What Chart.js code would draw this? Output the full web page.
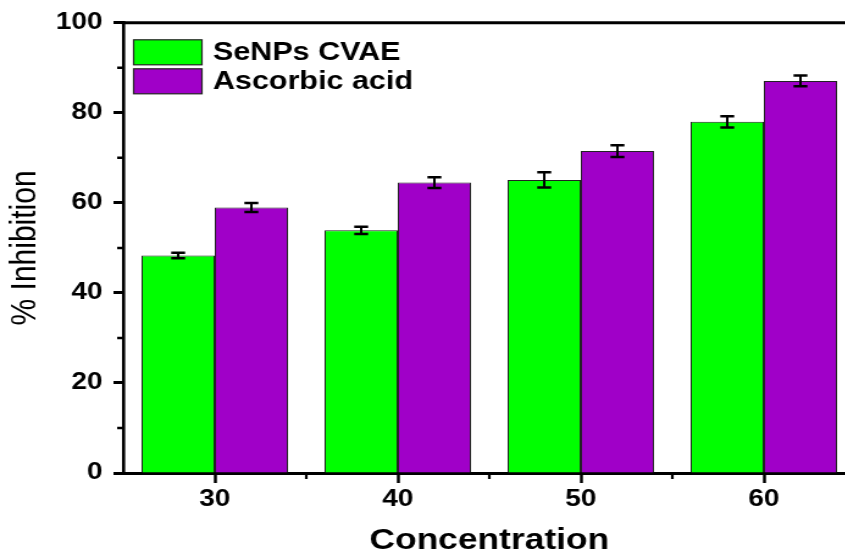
<!DOCTYPE html>
<html>
<head>
<meta charset="utf-8">
<script src="https://cdn.jsdelivr.net/npm/chart.js@4"></script>
<style>
  html, body { margin: 0; padding: 0; overflow: hidden; background: #fff; }
</style>
</head>
<body>
<!-- the original figure is stretched sideways; the inline size keeps that look -->
<canvas id="chart" width="713" height="553" style="display:block;width:870px;height:553px"></canvas>
<script>
// data
const concentrations = ['30', '40', '50', '60'];
const senpsValues = [48.3, 53.9, 65.1, 78.0];
const senpsErrors = [0.6, 0.8, 1.7, 1.25];
const ascorbicValues = [59.0, 64.5, 71.5, 87.1];
const ascorbicErrors = [1.0, 1.2, 1.3, 1.2];
const yTicks = [0, 20, 40, 60, 80, 100];

const FONT = 'Arial, "Liberation Sans", sans-serif';

// error bars, drawn through the scales
const errorBars = {
    id: 'errorBars',
    afterDatasetsDraw(chart) {
        const ctx = chart.ctx;
        const y = chart.scales.y;
        ctx.save();
        ctx.strokeStyle = '#000';
        chart.data.datasets.forEach((ds, i) => {
            const meta = chart.getDatasetMeta(i);
            meta.data.forEach((bar, j) => {
                const v = ds.data[j], e = ds.errors[j];
                const top = y.getPixelForValue(v + e);
                const bot = y.getPixelForValue(v - e);
                ctx.lineWidth = 2;
                ctx.beginPath();
                ctx.moveTo(bar.x, top); ctx.lineTo(bar.x, bot);
                ctx.stroke();
                ctx.lineWidth = 2.5;
                ctx.beginPath();
                ctx.moveTo(bar.x - 5.7, top); ctx.lineTo(bar.x + 5.7, top);
                ctx.moveTo(bar.x - 5.7, bot); ctx.lineTo(bar.x + 5.7, bot);
                ctx.stroke();
            });
        });
        ctx.restore();
    }
};

// minor ticks, top frame line and the boxed legend inside the plot
const frame = {
    id: 'frame',
    afterDraw(chart) {
        const ctx = chart.ctx;
        const a = chart.chartArea;
        const x = chart.scales.x, y = chart.scales.y;
        ctx.save();
        ctx.strokeStyle = '#000';
        ctx.lineWidth = 3;
        ctx.beginPath();
        ctx.moveTo(a.left - 1.3, a.top);
        ctx.lineTo(a.right, a.top);
        ctx.stroke();

        ctx.beginPath();
        for (let i = 0; i < yTicks.length - 1; i++) {
            const py = y.getPixelForValue((yTicks[i] + yTicks[i + 1]) / 2);
            ctx.moveTo(a.left - 5, py); ctx.lineTo(a.left, py);
        }
        ctx.lineWidth = 2.5;
        ctx.stroke();
        ctx.beginPath();
        for (let i = 0; i < concentrations.length - 1; i++) {
            const px = (x.getPixelForTick(i) + x.getPixelForTick(i + 1)) / 2;
            ctx.moveTo(px, a.bottom); ctx.lineTo(px, a.bottom + 6);
        }
        ctx.lineWidth = 2.2;
        ctx.stroke();

        // legend
        const lx = a.left + 8.5, ly = a.top + 17;
        ctx.font = 'bold 25px ' + FONT;
        ctx.textBaseline = 'middle';
        chart.data.datasets.forEach((ds, i) => {
            const by = ly + i * 29;
            ctx.fillStyle = ds.backgroundColor;
            ctx.fillRect(lx, by, 56, 25);
            ctx.lineWidth = 1.2;
            ctx.strokeStyle = '#222';
            ctx.strokeRect(lx, by, 56, 25);
            ctx.fillStyle = '#000';
            ctx.fillText(ds.label, lx + 65, by + 13);
        });
        ctx.restore();
    }
};

new Chart(document.getElementById('chart').getContext('2d'), {
    type: 'bar',
    data: {
        labels: concentrations,
        datasets: [{
            label: 'SeNPs CVAE',
            data: senpsValues,
            errors: senpsErrors,
            backgroundColor: '#00FF00',
            borderColor: '#222',
            borderWidth: 1,
            categoryPercentage: 0.8,
            barPercentage: 1.0
        }, {
            label: 'Ascorbic acid',
            data: ascorbicValues,
            errors: ascorbicErrors,
            backgroundColor: '#A000C8',
            borderColor: '#222',
            borderWidth: 1,
            categoryPercentage: 0.8,
            barPercentage: 1.0
        }]
    },
    options: {
        responsive: false,
        animation: false,
        layout: { padding: { top: 22, right: 12, left: 0, bottom: 0 } },
        plugins: {
            legend: { display: false },
            tooltip: { enabled: false }
        },
        scales: {
            x: {
                grid: { offset: false, drawOnChartArea: false, tickLength: 10, tickWidth: 2.5, tickColor: '#000' },
                border: { color: '#000', width: 3 },
                ticks: { color: '#000', padding: 3, font: { family: FONT, weight: 'bold', size: 23 } },
                title: {
                    display: true,
                    text: 'Concentration',
                    color: '#000',
                    padding: 0,
                    font: { family: FONT, weight: 'bold', size: 29, lineHeight: 0.8 }
                },
                afterFit(s) { s.height = 80; }
            },
            y: {
                min: 0,
                max: 100,
                afterBuildTicks(s) { s.ticks = yTicks.map(v => ({ value: v })); },
                grid: { drawOnChartArea: false, tickLength: 8, tickWidth: 3, tickColor: '#000' },
                border: { color: '#000', width: 2.6 },
                ticks: { color: '#000', padding: 9, font: { family: FONT, weight: 'bold', size: 23 } },
                title: {
                    display: true,
                    text: '% Inhibition',
                    color: '#000',
                    padding: 3,
                    font: { family: FONT, size: 30 }
                },
                afterFit(s) { s.width = 101; }
            }
        }
    },
    plugins: [errorBars, frame]
});
</script>
</body>
</html>
